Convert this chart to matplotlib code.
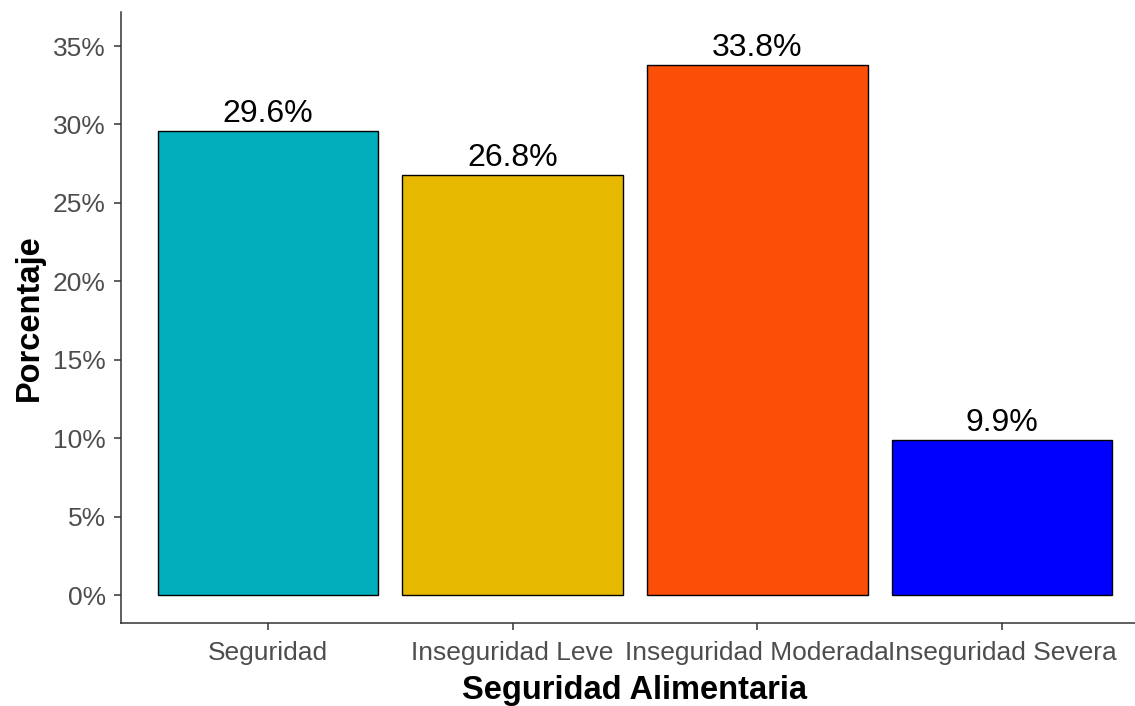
import matplotlib
matplotlib.use("Agg")
import matplotlib.pyplot as plt
from matplotlib.ticker import FuncFormatter

categories = ["Seguridad", "Inseguridad Leve", "Inseguridad Moderada", "Inseguridad Severa"]
values = [29.6, 26.8, 33.8, 9.9]
colors = ["#00AFBB", "#E7B800", "#FC4E07", "#0000FF"]
yticks = [0, 5, 10, 15, 20, 25, 30, 35]

plt.rcParams['font.family'] = ['Liberation Sans', 'DejaVu Sans']

fig = plt.figure(figsize=(11.35, 7.06), dpi=100)
ax = fig.add_axes([121/1135, 83/706, 1028/1135, 611/706])

x = list(range(len(categories)))
ax.bar(x, values, width=0.9, color=colors, edgecolor="black", linewidth=1.0, zorder=2)
for xi, v in zip(x, values):
    ax.annotate(f"{v:.1f}%", (xi, v), xytext=(0, 1), textcoords="offset points",
                ha="center", va="bottom", fontsize=23, color="black")

ax.set_xlim(-0.6, 3.6)
ax.set_ylim(-1.785, 37.17)
ax.set_yticks(yticks)
ax.yaxis.set_major_formatter(FuncFormatter(lambda v, p: f"{v:.0f}%"))
ax.set_xticks(x)
ax.set_xticklabels(categories)
ax.tick_params(axis="both", colors="#333333", labelcolor="#4D4D4D", labelsize=19, length=5, width=1.1)
ax.tick_params(axis="x", pad=8)
ax.tick_params(axis="y", pad=6)
for s in ["top", "right"]:
    ax.spines[s].set_visible(False)
for s in ["left", "bottom"]:
    ax.spines[s].set_color("#333333")
    ax.spines[s].set_linewidth(1.1)

ax.set_ylabel("Porcentaje", fontsize=23.5, fontweight="bold", labelpad=6)
ax.set_xlabel("Seguridad Alimentaria", fontsize=23.5, fontweight="bold", labelpad=7.5)

fig.savefig("out.png", dpi=100)
